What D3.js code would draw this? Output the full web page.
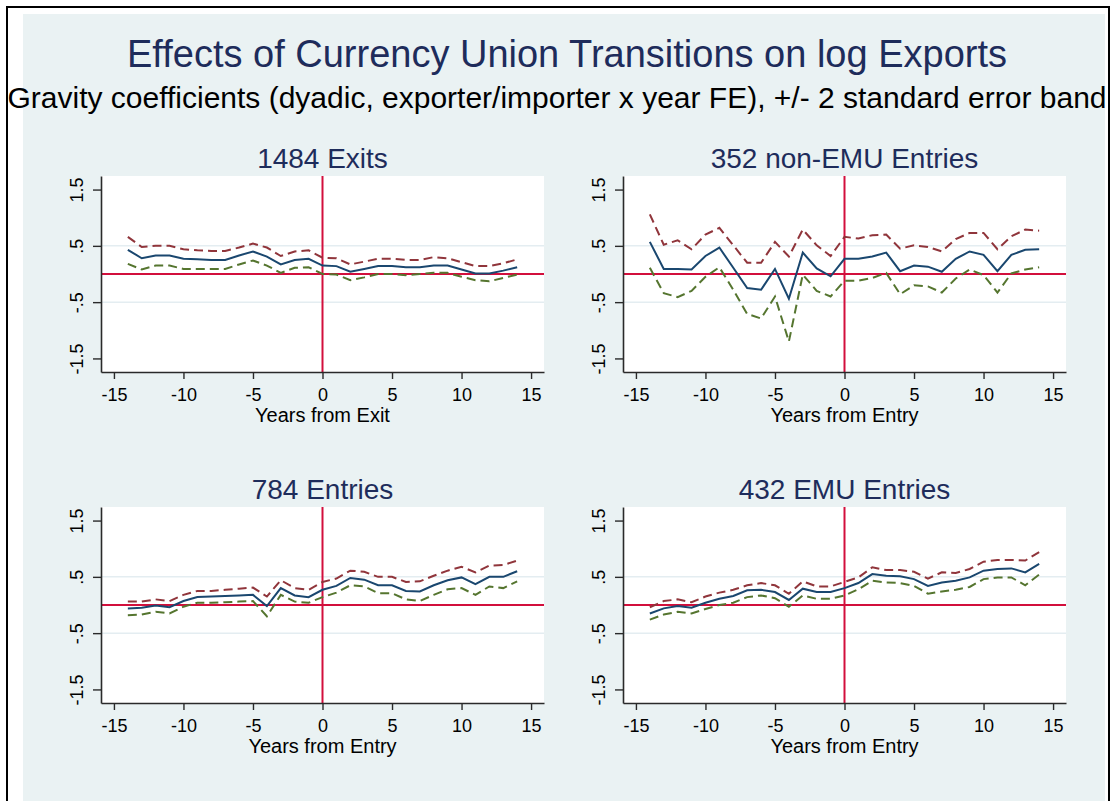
<!DOCTYPE html>
<html>
<head>
<meta charset="utf-8">
<script src="https://cdn.jsdelivr.net/npm/d3@7/dist/d3.min.js"></script>
<style>
  html, body { margin: 0; padding: 0; background: #ffffff; }
  svg { display: block; }
  text { font-family: "Liberation Sans", Arial, sans-serif; }
</style>
</head>
<body>
<svg id="chart" width="1113" height="801"></svg>
<script>
// ---------- data ----------
const years = [-14,-13,-12,-11,-10,-9,-8,-7,-6,-5,-4,-3,-2,-1,0,1,2,3,4,5,6,7,8,9,10,11,12,13,14];

const exitsEst = [0.43,0.28,0.33,0.33,0.27,0.26,0.25,0.25,0.33,0.40,0.31,0.17,0.25,0.27,0.15,0.14,0.04,0.09,0.14,0.14,0.12,0.12,0.15,0.15,0.08,0.01,0.01,0.06,0.12];
const exitsHi  = [0.66,0.48,0.50,0.50,0.44,0.42,0.41,0.41,0.47,0.54,0.47,0.32,0.40,0.42,0.29,0.28,0.17,0.22,0.27,0.27,0.25,0.25,0.30,0.28,0.21,0.14,0.14,0.19,0.26];
const exitsLo  = [0.18,0.08,0.15,0.15,0.09,0.09,0.09,0.09,0.17,0.24,0.15,0.02,0.11,0.12,0.00,-0.01,-0.11,-0.06,0.00,0.00,-0.02,0.00,0.02,0.02,-0.05,-0.11,-0.13,-0.07,-0.01];

const nonEmuEst = [0.57,0.09,0.09,0.08,0.32,0.47,0.11,-0.25,-0.28,0.09,-0.44,0.38,0.10,-0.04,0.27,0.27,0.31,0.38,0.05,0.15,0.13,0.04,0.27,0.40,0.34,0.05,0.34,0.43,0.44];
const nonEmuHi  = [1.06,0.52,0.60,0.44,0.70,0.82,0.51,0.20,0.20,0.57,0.31,0.79,0.51,0.32,0.66,0.63,0.69,0.70,0.45,0.51,0.48,0.40,0.62,0.73,0.73,0.44,0.67,0.79,0.77];
const nonEmuLo  = [0.11,-0.34,-0.41,-0.30,-0.05,0.12,-0.28,-0.71,-0.79,-0.40,-1.20,-0.01,-0.30,-0.40,-0.12,-0.12,-0.07,0.02,-0.36,-0.20,-0.22,-0.33,-0.08,0.08,-0.02,-0.33,0.01,0.08,0.12];

const entriesEst = [-0.06,-0.05,-0.01,-0.04,0.07,0.14,0.15,0.16,0.17,0.18,-0.02,0.30,0.17,0.14,0.27,0.34,0.48,0.45,0.35,0.35,0.25,0.24,0.35,0.44,0.49,0.37,0.50,0.50,0.60];
const entriesHi  = [0.06,0.06,0.10,0.07,0.18,0.25,0.25,0.27,0.29,0.31,0.15,0.44,0.30,0.27,0.41,0.47,0.61,0.59,0.50,0.50,0.41,0.42,0.52,0.61,0.68,0.58,0.70,0.71,0.79];
const entriesLo  = [-0.18,-0.17,-0.12,-0.15,-0.03,0.04,0.04,0.05,0.06,0.07,-0.20,0.18,0.06,0.04,0.14,0.22,0.35,0.33,0.21,0.21,0.10,0.07,0.18,0.28,0.30,0.18,0.33,0.30,0.42];

const emuEst = [-0.15,-0.06,-0.02,-0.05,0.04,0.11,0.16,0.26,0.27,0.23,0.09,0.29,0.23,0.23,0.30,0.39,0.55,0.52,0.51,0.46,0.34,0.40,0.43,0.49,0.61,0.64,0.65,0.58,0.73];
const emuHi  = [-0.04,0.07,0.10,0.05,0.15,0.22,0.27,0.35,0.39,0.35,0.20,0.42,0.33,0.33,0.41,0.49,0.67,0.62,0.62,0.59,0.47,0.58,0.57,0.64,0.77,0.80,0.80,0.79,0.94];
const emuLo  = [-0.26,-0.17,-0.12,-0.15,-0.07,0.00,0.04,0.14,0.17,0.12,-0.03,0.17,0.11,0.11,0.17,0.28,0.43,0.40,0.39,0.34,0.20,0.24,0.27,0.32,0.46,0.49,0.49,0.35,0.54];

const panelTitles = ["1484 Exits", "352 non-EMU Entries", "784 Entries", "432 EMU Entries"];
const xAxisTitles = ["Years from Exit", "Years from Entry", "Years from Entry", "Years from Entry"];
const xTickValues = [-15,-10,-5,0,5,10,15];
const xTickLabels = ["-15","-10","-5","0","5","10","15"];
const yTickValues = [-1.5,-0.5,0.5,1.5];
const yTickLabels = ["-1.5","-.5",".5","1.5"];
const gridValues = [-0.5,0.5];

const mainTitle = "Effects of Currency Union Transitions on log Exports";
const subTitle = "Gravity coefficients (dyadic, exporter/importer x year FE), +/- 2 standard error band";

const panels = [
  {title: panelTitles[0], xt: xAxisTitles[0], est: exitsEst, hi: exitsHi, lo: exitsLo},
  {title: panelTitles[1], xt: xAxisTitles[1], est: nonEmuEst, hi: nonEmuHi, lo: nonEmuLo},
  {title: panelTitles[2], xt: xAxisTitles[2], est: entriesEst, hi: entriesHi, lo: entriesLo},
  {title: panelTitles[3], xt: xAxisTitles[3], est: emuEst, hi: emuHi, lo: emuLo}
];

// ---------- styling ----------
const BG = "#eaf2f3";
const TITLE_COL = "#1e2c5b";
const NAVY = "#1a476f", MAROON = "#90353b", GREEN = "#55752f";
const REF = "#d20f3c";
const GRID = "#e4edf1";
const AXIS = "#2a2a2a";

const svg = d3.select("#chart");

// outer frame
svg.append("rect").attr("x", 0).attr("y", 0).attr("width", 1113).attr("height", 801).attr("fill", "#fff");
svg.append("rect").attr("x", 23).attr("y", 14).attr("width", 1082).attr("height", 800).attr("fill", BG);
svg.append("path").attr("d", "M7,801 V7 H1109 V801").attr("fill", "none").attr("stroke", "#000").attr("stroke-width", 2);

// titles
svg.append("text").attr("x", 567).attr("y", 67).attr("text-anchor", "middle")
  .attr("font-size", 38).attr("fill", TITLE_COL).text(mainTitle);
svg.append("text").attr("x", 557).attr("y", 108).attr("text-anchor", "middle")
  .attr("font-size", 30).attr("fill", "#000").text(subTitle);

const plotW = 443, plotH = 196;
const lefts = [101, 623], tops = [176, 507];

panels.forEach((p, i) => {
  const left = lefts[i % 2], top = tops[Math.floor(i / 2)];
  const g = svg.append("g").attr("transform", `translate(${left},${top})`);

  const x = d3.scaleLinear().domain([-15.93, 15.93]).range([0, plotW]);
  const y = d3.scaleLinear().domain([-1.741, 1.741]).range([plotH, 0]);

  g.append("rect").attr("width", plotW).attr("height", plotH).attr("fill", "#fff");

  // gridlines
  g.selectAll(".grid").data(gridValues).enter().append("line")
    .attr("x1", 0).attr("x2", plotW).attr("y1", d => y(d)).attr("y2", d => y(d))
    .attr("stroke", GRID).attr("stroke-width", 1.5);

  // reference lines
  g.append("line").attr("x1", 0).attr("x2", plotW).attr("y1", y(0)).attr("y2", y(0))
    .attr("stroke", REF).attr("stroke-width", 2);
  g.append("line").attr("x1", x(0)).attr("x2", x(0)).attr("y1", 0).attr("y2", plotH)
    .attr("stroke", REF).attr("stroke-width", 2);

  const line = d3.line().x((d, k) => x(years[k])).y(d => y(d));
  g.append("path").datum(p.hi).attr("d", line).attr("fill", "none")
    .attr("stroke", MAROON).attr("stroke-width", 2).attr("stroke-dasharray", "9,5");
  g.append("path").datum(p.lo).attr("d", line).attr("fill", "none")
    .attr("stroke", GREEN).attr("stroke-width", 2).attr("stroke-dasharray", "9,5");
  g.append("path").datum(p.est).attr("d", line).attr("fill", "none")
    .attr("stroke", NAVY).attr("stroke-width", 2);

  // axes
  const xa = g.append("g").attr("transform", `translate(0,${plotH})`)
    .call(d3.axisBottom(x).tickValues(xTickValues).tickSize(7).tickSizeOuter(0)
      .tickFormat((d, k) => xTickLabels[k]));
  xa.select(".domain").attr("stroke", AXIS).attr("stroke-width", 1.6);
  xa.selectAll(".tick line").attr("stroke", AXIS).attr("stroke-width", 1.4);
  xa.selectAll(".tick text").attr("y", 29).attr("dy", 0).attr("font-size", 18)
    .attr("fill", "#000").style("font-family", "'Liberation Sans', Arial, sans-serif");

  const ya = g.append("g")
    .call(d3.axisLeft(y).tickValues(yTickValues).tickSize(8).tickSizeOuter(0)
      .tickFormat((d, k) => yTickLabels[k]));
  ya.select(".domain").attr("stroke", AXIS).attr("stroke-width", 1.6);
  ya.selectAll(".tick line").attr("stroke", AXIS).attr("stroke-width", 1.4);
  ya.selectAll(".tick text").attr("transform", "rotate(-90)")
    .attr("x", 0).attr("y", -18).attr("dy", 0).attr("text-anchor", "middle")
    .attr("font-size", 18).attr("fill", "#000")
    .style("font-family", "'Liberation Sans', Arial, sans-serif");

  // panel title and axis title
  g.append("text").attr("x", x(0)).attr("y", -8).attr("text-anchor", "middle")
    .attr("font-size", 28).attr("fill", TITLE_COL).text(p.title);
  g.append("text").attr("x", x(0)).attr("y", plotH + 50).attr("text-anchor", "middle")
    .attr("font-size", 20).attr("fill", "#000").text(p.xt);
});
</script>
</body>
</html>
